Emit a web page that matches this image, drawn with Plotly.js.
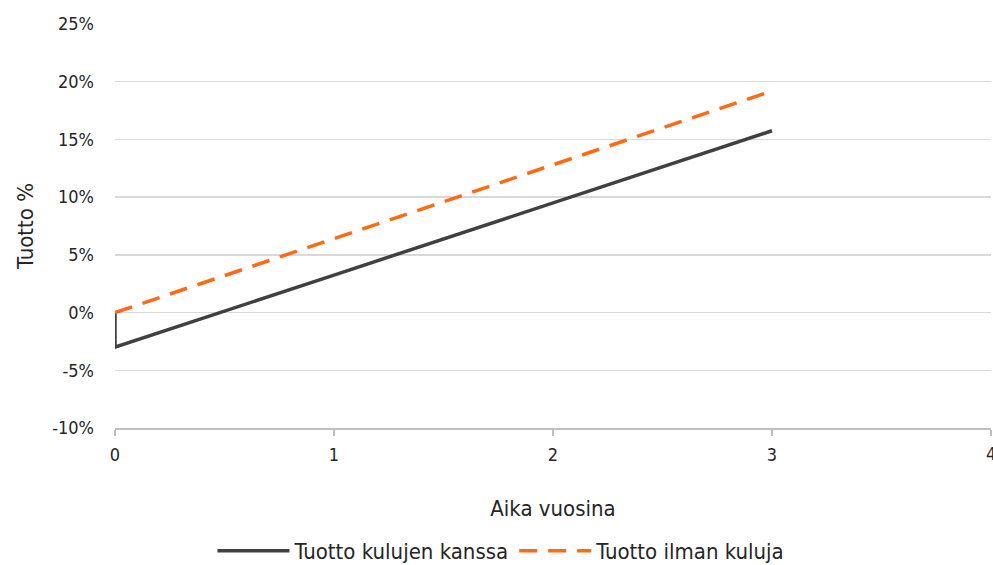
<!DOCTYPE html>
<html>
<head>
<meta charset="utf-8">
<script src="https://cdn.plot.ly/plotly-3.0.1.min.js"></script>
<style>html,body{margin:0;padding:0;background:#fff;}#chart{width:993px;height:565px;}</style>
</head>
<body>
<div id="chart"></div>
<script>
const xWithCosts = [0, 0, 1, 2, 3];
const withCosts = [0, -3.0, 3.25, 9.5, 15.75];
const xNoCosts = [0, 1, 2, 3];
const noCosts = [0, 6.4, 12.8, 19.2];
const seriesNames = ["Tuotto kulujen kanssa", "Tuotto ilman kuluja"];
const yTicks = [-10, -5, 0, 5, 10, 15, 20, 25];
const yTickLabels = ["-10%", "-5%", "0%", "5%", "10%", "15%", "20%", "25%"];
const xTicks = [0, 1, 2, 3, 4];

const fam = "DejaVu Sans Condensed, sans-serif";
const font = {family: fam, size: 18, color: "#262626"};
const lfont = {family: fam, size: 22, color: "#262626"};
const tfont = {family: fam, size: 22, color: "#262626"};

Plotly.newPlot("chart", [
  {x: xWithCosts, y: withCosts, name: seriesNames[0], mode: "lines", type: "scatter",
   line: {color: "#404040", width: 3.5}},
  {x: xNoCosts, y: noCosts, name: seriesNames[1], mode: "lines", type: "scatter",
   line: {color: "#FF6A13", width: 3.5, dash: "18px,11px"}}
], {
  width: 993, height: 565,
  margin: {l: 115, r: 2, t: 24, b: 137},
  paper_bgcolor: "#fff", plot_bgcolor: "#fff",
  font: font,
  showlegend: true,
  legend: {orientation: "h", xref: "container", x: 0.505, xanchor: "center", yref: "container", y: 0.025, yanchor: "middle",
           itemwidth: 72, font: lfont, tracegroupgap: 0},
  xaxis: {range: [0, 4], tickvals: xTicks, ticktext: xTicks.map(String), automargin: false,
          showgrid: false, zeroline: false, showline: true, linecolor: "#bfbfbf", linewidth: 1.5,
          ticks: "outside", ticklen: 6, tickcolor: "#bfbfbf", tickwidth: 1.5,
          tickfont: font, ticklabelstandoff: 4,
          title: {text: "Aika vuosina", font: tfont, standoff: 36}},
  yaxis: {range: [-10, 25], tickvals: yTicks, ticktext: yTickLabels, automargin: false,
          showgrid: true, gridcolor: "#d9d9d9", gridwidth: 1.5, zeroline: false,
          showline: false, ticks: "", tickfont: font, ticklabelstandoff: 20,
          title: {text: "Tuotto %", font: tfont, standoff: 12}},
  annotations: [{x: xTicks[4], y: yTicks[0], xref: "x", yref: "y", text: String(xTicks[4]),
                 showarrow: false, yanchor: "top", yshift: -13, font: font}]
}, {displayModeBar: false, staticPlot: true});
</script>
</body>
</html>
